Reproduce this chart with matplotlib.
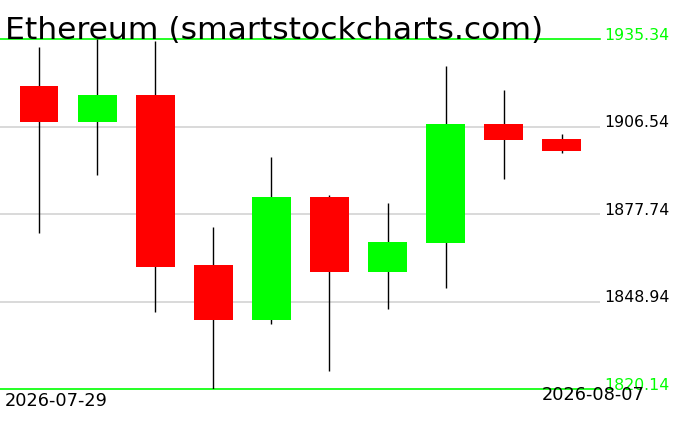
import matplotlib
matplotlib.use("Agg")
import matplotlib.pyplot as plt
import matplotlib.transforms as mtransforms

# ---- data ----
dates = ["2026-07-29", "2026-07-30", "2026-07-31", "2026-08-01", "2026-08-02",
         "2026-08-03", "2026-08-04", "2026-08-05", "2026-08-06", "2026-08-07"]
opens  = [1919.87, 1908.12, 1916.91, 1860.95, 1842.85, 1883.33, 1858.65, 1868.29, 1907.36, 1902.42]
highs  = [1932.71, 1935.34, 1934.68, 1873.46, 1896.40, 1883.99, 1881.36, 1926.45, 1918.65, 1904.07]
lows   = [1871.58, 1890.67, 1845.58, 1820.14, 1841.63, 1826.16, 1846.47, 1853.38, 1889.26, 1897.91]
closes = [1908.12, 1916.91, 1860.39, 1842.85, 1883.33, 1858.65, 1868.52, 1907.36, 1902.19, 1898.47]
y_ticks = [1935.34, 1906.54, 1877.74, 1848.94, 1820.14]
title = "Ethereum (smartstockcharts.com)"

W, H = 676, 431
fig = plt.figure(figsize=(W / 100, H / 100), dpi=100)
ax = fig.add_axes([0, 41 / H, 600 / W, 350 / H])
ax.set_axis_off()

ymin, ymax = min(y_ticks), max(y_ticks)
ax.set_ylim(ymin, ymax)
ax.set_xlim(-0.671, 9.656)

# grid lines
for v in y_ticks:
    if v in (ymin, ymax):
        ax.axhline(v, color="#00ff00", lw=1.2, zorder=1, clip_on=False)
    else:
        ax.axhline(v, color="#d3d3d3", lw=1.2, zorder=0)

bw = 0.67
for i, (o, h, l, c) in enumerate(zip(opens, highs, lows, closes)):
    col = "#00ff00" if c >= o else "#ff0000"
    ax.vlines(i, l, h, color="black", lw=1.0, zorder=2)
    ax.bar(i, abs(c - o), bottom=min(o, c), width=bw, color=col,
           edgecolor="none", zorder=3)

fam = ["DejaVu Sans"]
trans = mtransforms.blended_transform_factory(ax.transAxes, ax.transData)
for v in y_ticks:
    col = "#00ff00" if v in (ymin, ymax) else "black"
    ax.text(604 / 600, v, f"{v:.2f}", transform=trans, ha="left", va="baseline",
            fontsize=11.3, color=col, family=fam, clip_on=False)

fig.text(5 / W, 1 - 39 / H, title, ha="left", va="baseline", fontsize=22.6,
         family=fam, color="black")
fig.text(5 / W, 1 - 401 / H, dates[0], ha="left", va="center", fontsize=12.8, family=fam)
fig.text(645 / W, 1 - 395.5 / H, dates[-1], ha="right", va="center", fontsize=12.8, family=fam)

fig.savefig("out.png", dpi=100)
